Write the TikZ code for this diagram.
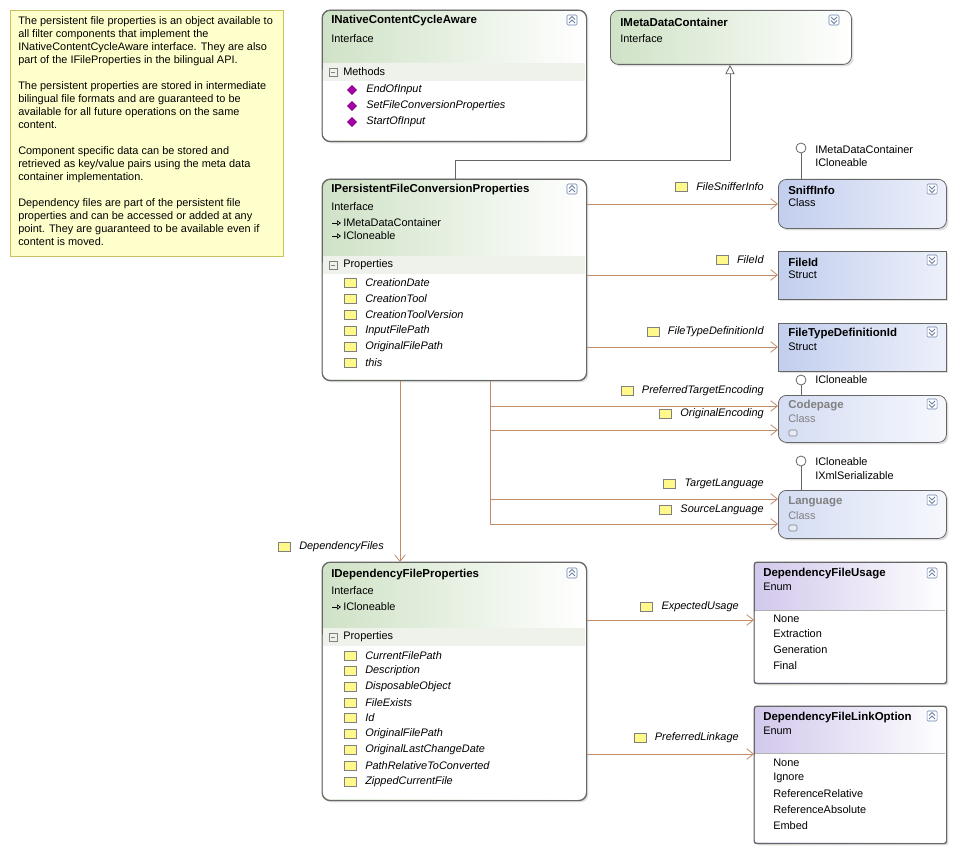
\documentclass[tikz,border=0pt]{standalone}
\usepackage{fontspec}
\setmainfont{Liberation Sans}
\usetikzlibrary{arrows.meta,shadows,shapes.geometric}
\definecolor{ifc}{HTML}{CFE2C6}
\definecolor{clsc}{HTML}{C2CEEE}
\definecolor{enmc}{HTML}{D2C8EC}
\definecolor{bandc}{HTML}{EEF2EA}
\definecolor{linec}{HTML}{C38B68}
\definecolor{notec}{HTML}{FFFFCC}
\definecolor{btnc}{HTML}{6A7FA8}

% class box: options, name, x1, y1, x2, y2
\newcommand\classbox[6][]{%
  \pgfmathsetmacro\bw{(#5-#3)*0.75}\pgfmathsetmacro\bh{(#6-#4)*0.75}%
  \node[box,#1,minimum width=\bw pt,minimum height=\bh pt,anchor=north west] (#2) at (#3,#4) {};}
% collapse button: x, y, up/down
\newcommand\btn[3]{%
  \draw[btnc,fill=white,rounded corners=1pt] (#1-5,#2-5) rectangle (#1+5,#2+5);
  \ifx#3u
    \draw[btnc,line width=.6pt] (#1-3,#2-.5) -- (#1,#2-3.5) -- (#1+3,#2-.5) (#1-3,#2+3) -- (#1,#2) -- (#1+3,#2+3);
  \else
    \draw[btnc,line width=.6pt] (#1-3,#2+.5) -- (#1,#2+3.5) -- (#1+3,#2+.5) (#1-3,#2-3) -- (#1,#2) -- (#1+3,#2-3);
  \fi}
% section band: x1, x2, y, title
\newcommand\band[4]{%
  \fill[bandc] (#1+.6,#3) rectangle (#2-.6,#3+18);
  \draw[gray] (#1+7,#3+5) rectangle (#1+15,#3+13) (#1+9,#3+9) -- (#1+13,#3+9);
  \node[txt,anchor=west] at (#1+21,#3+9) {#4};}
% property item: x, y, text
\newcommand\pitem[3]{%
  \node[picon] at (#1,#2) {};
  \node[txt,anchor=west,font=\fontsize{8.2}{9}\selectfont\itshape] at (#1+15,#2) {#3};}

\begin{document}
\begin{tikzpicture}[x=0.75pt,y=-0.75pt]
    \tikzset{box/.style = {draw=gray!80!black, line width=.6pt, rounded corners=6pt, inner sep=0pt, drop shadow={shadow xshift=1.5pt, shadow yshift=-1.5pt, opacity=.25}}}
    \tikzset{frame/.style = {draw=gray!80!black, line width=.6pt, rounded corners=6pt}}
    \tikzset{iface/.style = {left color=ifc, right color=white}}
    \tikzset{cls/.style = {left color=clsc, right color=clsc!30}}
    \tikzset{enm/.style = {left color=enmc, right color=white, rounded corners=2pt}}
    \tikzset{txt/.style = {inner sep=0pt, font=\fontsize{8.2}{9}\selectfont}}
    \tikzset{ttl/.style = {inner sep=0pt, anchor=west, font=\fontsize{8.6}{9}\selectfont\bfseries}}
    \tikzset{picon/.style = {draw=gray, fill=yellow!45, inner sep=0pt, minimum width=9pt, minimum height=7pt}}
    \tikzset{assoc/.style = {draw=linec, line width=.6pt, -{Straight Barb[length=5pt,width=8pt]}}}
    \tikzset{inh/.style = {draw=gray!80!black, line width=.6pt, -{Triangle[open,length=7pt,width=7pt]}}}
    \tikzset{lbl/.style = {inner sep=0pt, font=\fontsize{8.2}{9}\selectfont\itshape}}
    \useasboundingbox (0,0) rectangle (955,852);

    % note
    \node[draw=yellow!50!gray, fill=notec, inner sep=0pt, minimum width=204.75pt, minimum height=184.5pt, anchor=north west] (note) at (10,10) {};
    \node[txt, anchor=north west, align=left, font=\fontsize{8.2}{9.75}\selectfont] at (18,16)
      {The persistent file properties is an object available to\\ all filter components that implement the\\ INativeContentCycleAware interface. They are also\\ part of the IFileProperties in the bilingual API.\\[9.75pt]
       The persistent properties are stored in intermediate\\ bilingual file formats and are guaranteed to be\\ available for all future operations on the same\\ content.\\[9.75pt]
       Component specific data can be stored and\\ retrieved as key/value pairs using the meta data\\ container implementation.\\[9.75pt]
       Dependency files are part of the persistent file\\ properties and can be accessed or added at any\\ point. They are guaranteed to be available even if\\ content is moved.};

    % interfaces
    \classbox[iface]{nca}{322}{10}{586}{141}
    \fill[white,rounded corners=6pt] (322.6,63) -- (322.6,140.4) -- (585.4,140.4) -- (585.4,63) -- cycle;
    \band{322}{586}{63}{Methods}
    \draw[frame] (nca.north west) rectangle (nca.south east);
    \node[ttl] at (331,21) {INativeContentCycleAware};
    \node[txt,anchor=west] at (331,39) {Interface};
    \foreach \y/\m in {90/EndOfInput,106/SetFileConversionProperties,122/StartOfInput} {
      \node[fill=violet!70!magenta, draw=violet, diamond, inner sep=0pt, minimum size=7pt] at (352,\y) {};
      \node[txt,anchor=west,font=\fontsize{8.2}{9}\selectfont\itshape] at (366,\y) {\m};
    }
    \btn{572}{20}{u}

    \classbox[iface]{mdc}{610}{10}{851}{64}
    \node[ttl] at (620,22) {IMetaDataContainer};
    \node[txt,anchor=west] at (620,39) {Interface};
    \btn{834}{20}{d}

    \classbox[iface]{pfc}{322}{179}{586}{380}
    \fill[white,rounded corners=6pt] (322.6,256) -- (322.6,379.4) -- (585.4,379.4) -- (585.4,256) -- cycle;
    \band{322}{586}{256}{Properties}
    \draw[frame] (pfc.north west) rectangle (pfc.south east);
    \node[ttl] at (331,190) {IPersistentFileConversionProperties};
    \node[txt,anchor=west] at (331,207) {Interface};
    \foreach \y/\m in {223/IMetaDataContainer,236/ICloneable} {
      \draw[-{Triangle[open,length=3pt,width=4pt]},line width=.5pt] (332,\y) -- (341,\y);
      \node[txt,anchor=west] at (343,\y) {\m};
    }
    \foreach \y/\m in {283/CreationDate,299/CreationTool,315/CreationToolVersion,331/InputFilePath,347/OriginalFilePath,363/this}
      {\pitem{350}{\y}{\m}}
    \btn{572}{189}{u}

    \classbox[iface]{dfp}{322}{562}{586}{800}
    \fill[white,rounded corners=6pt] (322.6,628) -- (322.6,799.4) -- (585.4,799.4) -- (585.4,628) -- cycle;
    \band{322}{586}{628}{Properties}
    \draw[frame] (dfp.north west) rectangle (dfp.south east);
    \node[ttl] at (331,575) {IDependencyFileProperties};
    \node[txt,anchor=west] at (331,591) {Interface};
    \draw[-{Triangle[open,length=3pt,width=4pt]},line width=.5pt] (332,607) -- (341,607);
    \node[txt,anchor=west] at (343,607) {ICloneable};
    \foreach \y/\m in {656/CurrentFilePath,671/Description,687/DisposableObject,703/FileExists,718/Id,734/OriginalFilePath,750/OriginalLastChangeDate,766/PathRelativeToConverted,782/ZippedCurrentFile}
      {\pitem{350}{\y}{\m}}
    \btn{572}{573}{u}

    % classes and structs
    \classbox[cls]{sni}{778}{179}{946}{228}
    \node[ttl] at (788,190) {SniffInfo};
    \node[txt,anchor=west] at (788,203) {Class};
    \btn{932}{189}{d}

    \classbox[cls,rounded corners=0pt]{fid}{778}{251}{946}{299}
    \node[ttl] at (788,262) {FileId};
    \node[txt,anchor=west] at (788,275) {Struct};
    \btn{932}{260}{d}

    \classbox[cls,rounded corners=0pt]{ftd}{778}{323}{946}{371}
    \node[ttl] at (788,334) {FileTypeDefinitionId};
    \node[txt,anchor=west] at (788,347) {Struct};
    \btn{932}{332}{d}

    \classbox[cls,left color=clsc!70, right color=clsc!15]{cdp}{778}{395}{946}{442}
    \node[ttl,gray] at (788,406) {Codepage};
    \node[txt,anchor=west,gray] at (788,419) {Class};
    \draw[gray,fill=clsc!40,rounded corners=1pt] (789,430) rectangle (797,436);
    \btn{932}{404}{d}

    \classbox[cls,left color=clsc!70, right color=clsc!15]{lng}{778}{490}{946}{538}
    \node[ttl,gray] at (788,502) {Language};
    \node[txt,anchor=west,gray] at (788,516) {Class};
    \draw[gray,fill=clsc!40,rounded corners=1pt] (789,525) rectangle (797,531);
    \btn{932}{500}{d}

    % enums
    \classbox[enm]{dfu}{754}{562}{946}{683}
    \fill[white,rounded corners=2pt] (754.6,610) -- (754.6,682.4) -- (945.4,682.4) -- (945.4,610) -- cycle;
    \draw[gray!60] (754.6,610) -- (945.4,610);
    \draw[frame,rounded corners=2pt] (dfu.north west) rectangle (dfu.south east);
    \node[ttl] at (763,574) {DependencyFileUsage};
    \node[txt,anchor=west] at (763,587) {Enum};
    \foreach \y/\m in {619/None,634/Extraction,650/Generation,666/Final}
      {\node[txt,anchor=west] at (773,\y) {\m};}
    \btn{932}{573}{u}

    \classbox[enm]{dfl}{754}{706}{946}{843}
    \fill[white,rounded corners=2pt] (754.6,753) -- (754.6,842.4) -- (945.4,842.4) -- (945.4,753) -- cycle;
    \draw[gray!60] (754.6,753) -- (945.4,753);
    \draw[frame,rounded corners=2pt] (dfl.north west) rectangle (dfl.south east);
    \node[ttl] at (763,718) {DependencyFileLinkOption};
    \node[txt,anchor=west] at (763,731) {Enum};
    \foreach \y/\m in {763/None,778/Ignore,794/ReferenceRelative,810/ReferenceAbsolute,826/Embed}
      {\node[txt,anchor=west] at (773,\y) {\m};}
    \btn{932}{716}{u}

    % lollipops
    \draw[gray!80!black, line width=.6pt] (sni.north -| 801,0) -- (801,153);
    \draw[gray!80!black, fill=white, line width=.6pt] (801,148) circle (5);
    \node[txt,anchor=west] at (815,150) {IMetaDataContainer};
    \node[txt,anchor=west] at (815,163) {ICloneable};
    \draw[gray!80!black, line width=.6pt] (cdp.north -| 801,0) -- (801,385);
    \draw[gray!80!black, fill=white, line width=.6pt] (801,380) circle (5);
    \node[txt,anchor=west] at (815,380) {ICloneable};
    \draw[gray!80!black, line width=.6pt] (lng.north -| 801,0) -- (801,466);
    \draw[gray!80!black, fill=white, line width=.6pt] (801,461) circle (5);
    \node[txt,anchor=west] at (815,462) {ICloneable};
    \node[txt,anchor=west] at (815,476) {IXmlSerializable};

    % edges
    \draw[inh] (pfc.north -| 455,0) -- (455,160) -| (mdc.south -| 730,0);
    \draw[assoc] (pfc.east |- 0,204) -- (sni.west |- 0,204);
    \draw[assoc] (pfc.east |- 0,275) -- (fid.west |- 0,275);
    \draw[assoc] (pfc.east |- 0,347) -- (ftd.west |- 0,347);
    \draw[assoc] (pfc.south -| 490,0) |- (cdp.west |- 0,406);
    \draw[assoc] (pfc.south -| 490,0) |- (cdp.west |- 0,430);
    \draw[assoc] (pfc.south -| 490,0) |- (lng.west |- 0,499);
    \draw[assoc] (pfc.south -| 490,0) |- (lng.west |- 0,524);
    \draw[assoc] (pfc.south -| 400,0) -- (dfp.north -| 400,0);
    \draw[assoc] (dfp.east |- 0,620) -- (dfu.west |- 0,620);
    \draw[assoc] (dfp.east |- 0,754) -- (dfl.west |- 0,754);

    % edge labels
    \foreach \x/\y/\t in {764/187/FileSnifferInfo,764/260/FileId,764/332/FileTypeDefinitionId,764/391/PreferredTargetEncoding,764/414/OriginalEncoding,764/484/TargetLanguage,764/510/SourceLanguage,384/547/DependencyFiles,739/607/ExpectedUsage,739/738/PreferredLinkage} {
      \node[lbl,anchor=east] (l) at (\x,\y) {\t};
      \node[picon] at ([xshift=-11pt]l.west) {};
    }
\end{tikzpicture}
\end{document}
